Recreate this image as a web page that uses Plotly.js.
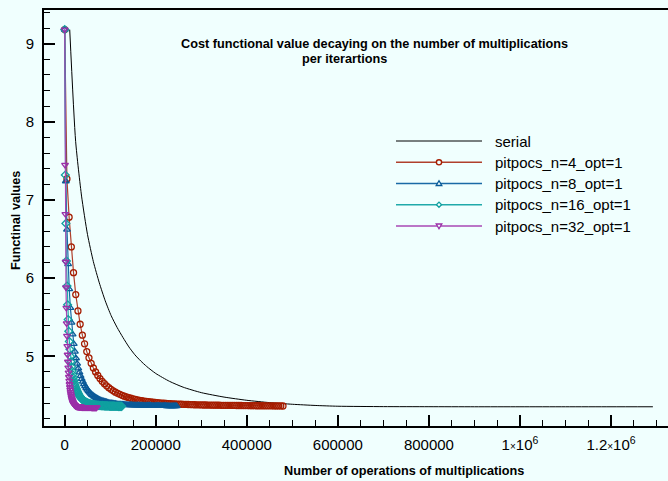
<!DOCTYPE html>
<html>
<head>
<meta charset="utf-8">
<script src="https://cdn.plot.ly/plotly-3.0.1.min.js"></script>
<style>
html,body{margin:0;padding:0;overflow:hidden;background:#f0fffe;}
#chart{width:668px;height:481px;}
</style>
</head>
<body>
<div id="chart"></div>
<script>
// ---- data ----
const seriesNames = ["serial", "pitpocs_n=4_opt=1", "pitpocs_n=8_opt=1", "pitpocs_n=16_opt=1", "pitpocs_n=32_opt=1"];

const serialX = [11000, 24000, 37000, 50000, 63000, 76000, 89000, 102000, 115000, 128000,
  141000, 154000, 167000, 180000, 200000, 230000, 260000, 300000, 350000, 400000,
  450000, 500000, 550000, 600000, 700000, 800000, 900000, 1000000, 1100000, 1200000, 1292000];
const serialY = [9.18, 7.75, 7.05, 6.56, 6.21, 5.94, 5.71, 5.52, 5.37, 5.24,
  5.12, 5.02, 4.94, 4.87, 4.78, 4.68, 4.605, 4.535, 4.478, 4.437,
  4.407, 4.386, 4.371, 4.361, 4.356, 4.355, 4.354, 4.354, 4.354, 4.354, 4.354];

// operations of multiplications per iteration for each parallel run
const opsPerIteration = [4843, 2485, 1265, 710];

const n4Y = [9.18, 7.27, 6.78, 6.40, 6.07, 5.79, 5.58, 5.41, 5.27, 5.16,
 5.06, 4.98, 4.91, 4.85, 4.80, 4.755, 4.715, 4.68, 4.65, 4.622,
 4.598, 4.577, 4.558, 4.541, 4.526, 4.513, 4.501, 4.49, 4.48, 4.471,
 4.463, 4.456, 4.449, 4.443, 4.437, 4.432, 4.427, 4.423, 4.419, 4.415,
 4.412, 4.409, 4.406, 4.403, 4.401, 4.399, 4.397, 4.395, 4.393, 4.391,
 4.39, 4.388, 4.387, 4.386, 4.385, 4.384, 4.383, 4.382, 4.381, 4.38,
 4.379, 4.379, 4.378, 4.377, 4.377, 4.376, 4.376, 4.375, 4.375, 4.374,
 4.374, 4.373, 4.373, 4.372, 4.372, 4.372, 4.371, 4.371, 4.37, 4.37,
 4.37, 4.369, 4.369, 4.369, 4.368, 4.368, 4.368, 4.367, 4.367, 4.367,
 4.367, 4.366, 4.366, 4.366, 4.366, 4.365, 4.365, 4.365, 4.365, 4.364];

const n8Y = [9.18, 7.24, 6.62, 6.18, 5.86, 5.62, 5.43, 5.28, 5.16, 5.06,
 4.975, 4.905, 4.845, 4.795, 4.75, 4.71, 4.675, 4.645, 4.618, 4.594,
 4.573, 4.554, 4.537, 4.522, 4.508, 4.496, 4.485, 4.475, 4.466, 4.458,
 4.45, 4.443, 4.437, 4.431, 4.426, 4.421, 4.417, 4.413, 4.409, 4.406,
 4.403, 4.4, 4.397, 4.395, 4.393, 4.391, 4.389, 4.387, 4.386, 4.384,
 4.383, 4.382, 4.381, 4.38, 4.379, 4.378, 4.377, 4.376, 4.376, 4.375,
 4.374, 4.374, 4.373, 4.373, 4.372, 4.372, 4.371, 4.371, 4.37, 4.37,
 4.37, 4.369, 4.369, 4.369, 4.368, 4.368, 4.368, 4.367, 4.367, 4.367,
 4.367, 4.366, 4.366, 4.366, 4.366, 4.365, 4.365, 4.365, 4.365, 4.365,
 4.364, 4.364, 4.364, 4.364, 4.364, 4.363, 4.363, 4.363, 4.363, 4.363];

const n16Y = [9.18, 7.32, 6.70, 6.22, 5.90, 5.66, 5.47, 5.32, 5.19, 5.09,
 5.00, 4.93, 4.865, 4.81, 4.765, 4.725, 4.69, 4.66, 4.632, 4.607,
 4.585, 4.565, 4.547, 4.531, 4.516, 4.503, 4.491, 4.48, 4.47, 4.461,
 4.453, 4.446, 4.439, 4.433, 4.427, 4.422, 4.417, 4.413, 4.409, 4.405,
 4.402, 4.399, 4.396, 4.393, 4.391, 4.389, 4.387, 4.385, 4.383, 4.382,
 4.38, 4.379, 4.378, 4.377, 4.376, 4.375, 4.374, 4.373, 4.372, 4.372,
 4.371, 4.37, 4.37, 4.369, 4.369, 4.368, 4.368, 4.367, 4.367, 4.366,
 4.366, 4.366, 4.365, 4.365, 4.365, 4.364, 4.364, 4.364, 4.363, 4.363,
 4.363, 4.363, 4.362, 4.362, 4.362, 4.362, 4.362, 4.361, 4.361, 4.361,
 4.361, 4.361, 4.361, 4.36, 4.36, 4.36, 4.36, 4.36, 4.36, 4.36];

const n32Y = [9.18, 7.45, 6.82, 6.21, 5.88, 5.62, 5.42, 5.26, 5.13, 5.02,
 4.93, 4.855, 4.79, 4.735, 4.685, 4.642, 4.604, 4.571, 4.542, 4.516,
 4.493, 4.473, 4.455, 4.44, 4.427, 4.415, 4.405, 4.396, 4.389, 4.383,
 4.378, 4.374, 4.37, 4.367, 4.365, 4.363, 4.361, 4.359, 4.358, 4.357,
 4.356, 4.355, 4.354, 4.354, 4.353, 4.353, 4.352, 4.352, 4.352, 4.351,
 4.351, 4.351, 4.351, 4.35, 4.35, 4.35, 4.35, 4.35, 4.35, 4.35,
 4.349, 4.349, 4.349, 4.349, 4.349, 4.349, 4.349, 4.349, 4.349, 4.349,
 4.348, 4.348, 4.348, 4.348, 4.348, 4.348, 4.348, 4.348, 4.348, 4.348,
 4.348, 4.348, 4.348, 4.347, 4.347, 4.347, 4.347, 4.347, 4.347, 4.347,
 4.347, 4.347, 4.347, 4.347, 4.347, 4.347, 4.347, 4.347, 4.347, 4.347];

const xTickVals = [0, 200000, 400000, 600000, 800000, 1000000, 1200000];
const xTickText = ["0", "200000", "400000", "600000", "800000",
  "1<span style='font-size:10px'>×</span>10<sup>6</sup>",
  "1.2<span style='font-size:10px'>×</span>10<sup>6</sup>"];
const yTickVals = [5, 6, 7, 8, 9];

const titleLines = ["Cost functional value decaying on the number of multiplications", "per iterartions"];
const xTitle = "Number of operations of multiplications";
const yTitle = "Functinal values";

// ---- style ----
const W = 668, H = 481;
const M = {l: 44, r: 0, t: 10, b: 55};
const PW = W - M.l - M.r, PH = H - M.t - M.b;
const px = x => (x - M.l) / PW;
const py = y => 1 - (y - M.t) / PH;
const FONT = "Liberation Sans, Arial, Helvetica, sans-serif";
const TFS = 12.7;

const colors = ["#000000", "#a51d00", "#0a5a98", "#10a0a0", "#9b2fa8"];
const lineColors = ["#000000", "#b0402c", "#1a6aa6", "#20aaaa", "#a848b4"];
const symbols = [null, "circle-open", "triangle-up-open", "diamond-open", "triangle-down-open"];
const ys = [n4Y, n8Y, n16Y, n32Y];

const traces = [{
  type: "scatter", mode: "lines", name: seriesNames[0],
  x: serialX, y: serialY,
  line: {color: colors[0], width: 1, shape: "spline", smoothing: 0.6},
  showlegend: false
}];
ys.forEach((y, i) => {
  traces.push({
    type: "scatter", mode: "lines+markers", name: seriesNames[i + 1],
    x0: 0, dx: opsPerIteration[i], y: y,
    line: {color: lineColors[i + 1], width: 1.2},
    marker: {symbol: symbols[i + 1], size: 6, color: colors[i + 1], line: {width: 1.3, color: colors[i + 1]}},
    showlegend: false
  });
});

// custom legend
const legRows = [141, 162.3, 183.5, 204.7, 226];
const shapes = [];
const annotations = [];
legRows.forEach((ry, i) => {
  shapes.push({type: "line", xref: "paper", yref: "paper", x0: px(396), x1: px(482), y0: py(ry), y1: py(ry),
    line: {color: lineColors[i], width: i === 0 ? 1 : 1.6}});
  if (i > 0) {
    const c = colors[i];
    if (symbols[i] === "circle-open") {
      shapes.push({type: "circle", xref: "paper", yref: "paper", xsizemode: "pixel", ysizemode: "pixel",
        xanchor: px(439), yanchor: py(ry), x0: -2.6, x1: 2.6, y0: -2.6, y1: 2.6,
        fillcolor: "#f0fffe", line: {color: c, width: 1.4}});
    } else {
      let path;
      if (symbols[i] === "triangle-up-open") path = "M-2.8,-2 L2.8,-2 L0,2.8 Z";
      else if (symbols[i] === "triangle-down-open") path = "M-2.8,2 L2.8,2 L0,-2.8 Z";
      else path = "M0,-2.6 L2.6,0 L0,2.6 L-2.6,0 Z";
      shapes.push({type: "path", xref: "paper", yref: "paper", xsizemode: "pixel", ysizemode: "pixel",
        xanchor: px(439), yanchor: py(ry), path: path, fillcolor: "#f0fffe", line: {color: c, width: 1.3}});
    }
  }
  annotations.push({xref: "paper", yref: "paper", x: px(493), y: py(ry), xanchor: "left", yanchor: "middle",
    text: seriesNames[i], showarrow: false, font: {family: FONT, size: 15, color: "#000"}});
});

annotations.push({xref: "paper", yref: "paper", x: px(374), y: py(44), xanchor: "center", yanchor: "middle",
  text: "<b>" + titleLines[0] + "</b>", showarrow: false, font: {family: FONT, size: TFS, color: "#000"}});
annotations.push({xref: "paper", yref: "paper", x: px(344), y: py(59), xanchor: "center", yanchor: "middle",
  text: "<b>" + titleLines[1] + "</b>", showarrow: false, font: {family: FONT, size: TFS, color: "#000"}});
annotations.push({xref: "paper", yref: "paper", x: px(404), y: py(471), xanchor: "center", yanchor: "middle",
  text: "<b>" + xTitle + "</b>", showarrow: false, font: {family: FONT, size: TFS, color: "#000"}});
annotations.push({xref: "paper", yref: "paper", x: px(16), y: py(221), xanchor: "center", yanchor: "middle",
  text: "<b>" + yTitle + "</b>", textangle: -90, showarrow: false, font: {family: FONT, size: TFS, color: "#000"}});

const layout = {
  width: W, height: H,
  margin: M,
  paper_bgcolor: "#f0fffe", plot_bgcolor: "#f0fffe",
  font: {family: FONT, size: 15, color: "#000"},
  showlegend: false,
  xaxis: {
    range: [-45500, 1325200], tickmode: "array", tickvals: xTickVals, ticktext: xTickText,
    ticks: "inside", ticklen: 11, tickwidth: 2, tickcolor: "#000",
    minor: {tickmode: "linear", tick0: 0, dtick: 50000, ticks: "inside", ticklen: 6, tickwidth: 1, tickcolor: "#000", showgrid: false},
    showline: true, linewidth: 2, linecolor: "#000", mirror: true,
    showgrid: false, zeroline: false, ticklabelstandoff: 4,
    tickfont: {family: FONT, size: 15, color: "#000"}
  },
  yaxis: {
    range: [4.108, 9.431], tickmode: "array", tickvals: yTickVals,
    ticks: "inside", ticklen: 11, tickwidth: 2, tickcolor: "#000",
    minor: {tickmode: "linear", tick0: 0, dtick: 0.2, ticks: "inside", ticklen: 6, tickwidth: 1, tickcolor: "#000", showgrid: false},
    showline: true, linewidth: 2, linecolor: "#000",
    showgrid: false, zeroline: false, ticklabelstandoff: 5,
    tickfont: {family: FONT, size: 15, color: "#000"}
  },
  shapes: shapes,
  annotations: annotations
};

Plotly.newPlot("chart", traces, layout, {displayModeBar: false, staticPlot: true});
</script>
</body>
</html>
